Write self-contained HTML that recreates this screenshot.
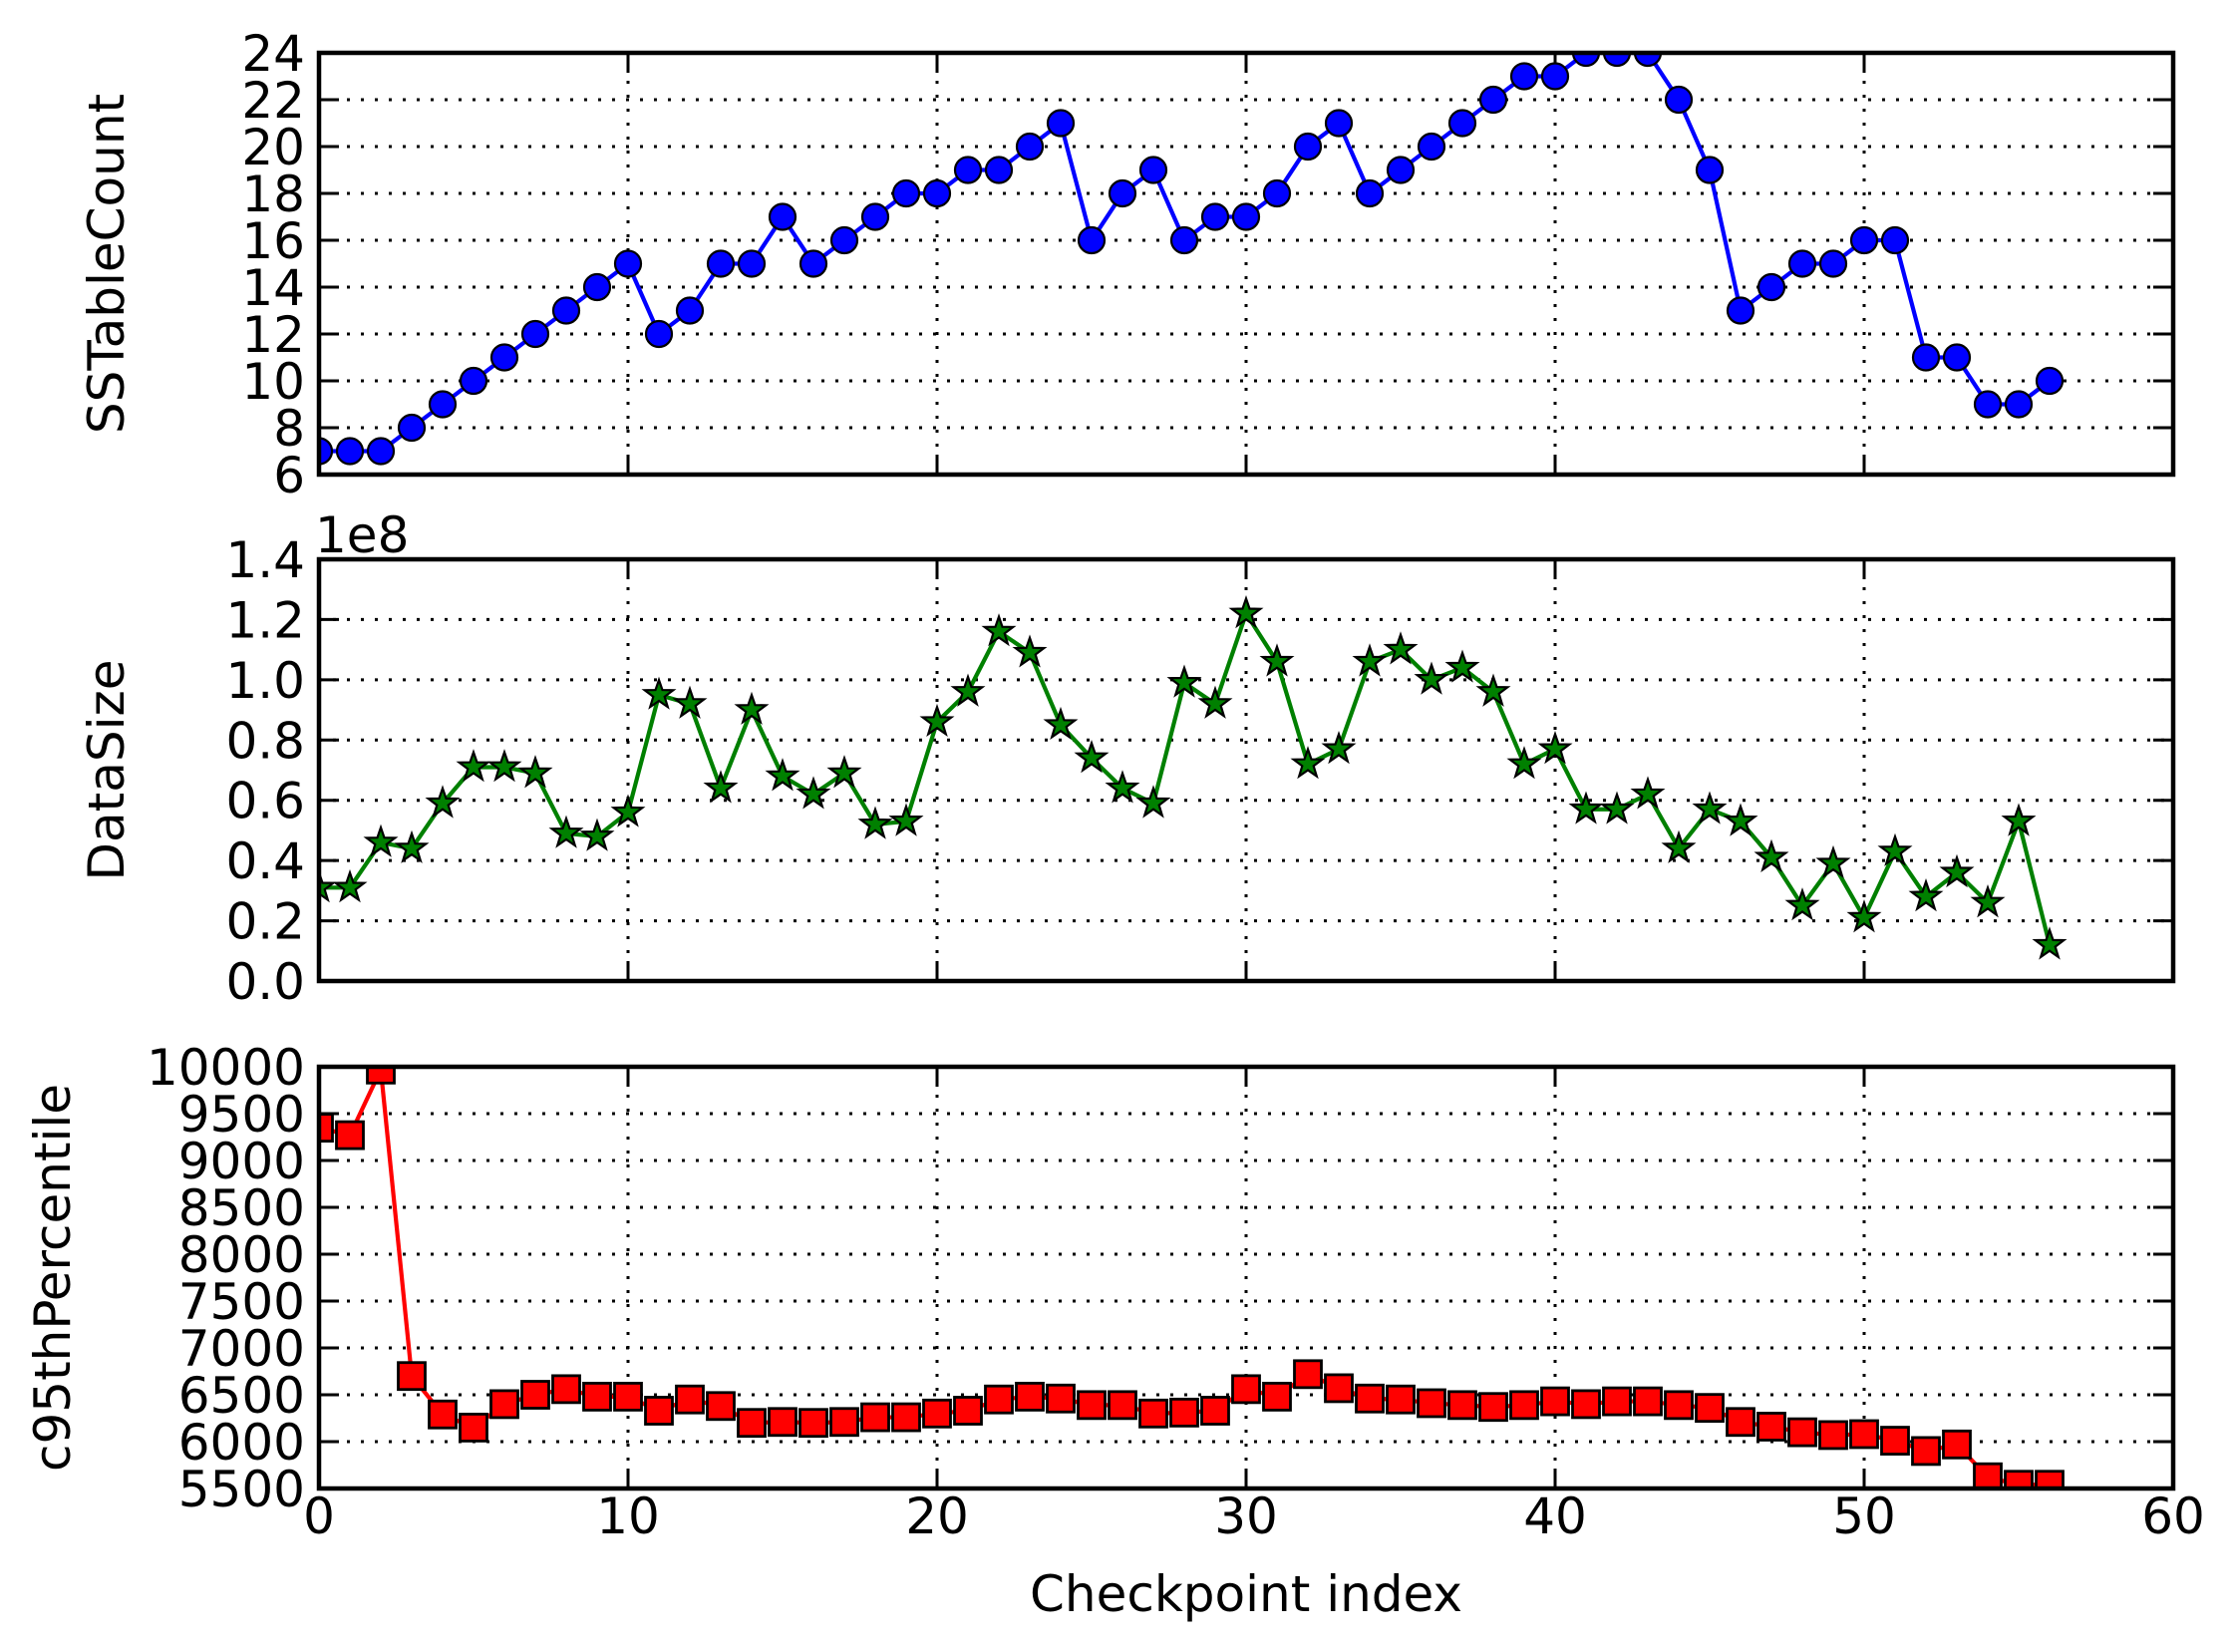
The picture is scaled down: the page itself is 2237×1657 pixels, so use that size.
<!DOCTYPE html>
<html><head><meta charset="utf-8"><style>html,body{margin:0;padding:0;background:#fff;}svg{display:block;}</style></head>
<body>
<svg id="chart" xmlns="http://www.w3.org/2000/svg" width="2237" height="1657" viewBox="0 0 2237 1657" font-family="'DejaVu Sans','Liberation Sans',sans-serif"></svg>
<script>
const checkpoints = Array.from({length:57},(_,i)=>i);
const sstableCount = [7,7,7,8,9,10,11,12,13,14,15,12,13,15,15,17,15,16,17,18,18,19,19,20,21,16,18,19,16,17,17,18,20,21,18,19,20,21,22,23,23,24,24,24,22,19,13,14,15,15,16,16,11,11,9,9,10];
const dataSize = [0.31,0.31,0.46,0.44,0.59,0.71,0.71,0.69,0.49,0.48,0.56,0.95,0.92,0.64,0.90,0.68,0.62,0.69,0.52,0.53,0.86,0.96,1.16,1.09,0.85,0.74,0.64,0.59,0.99,0.92,1.22,1.06,0.72,0.77,1.06,1.10,1.00,1.04,0.96,0.72,0.77,0.57,0.57,0.62,0.44,0.57,0.53,0.41,0.25,0.39,0.21,0.43,0.28,0.36,0.26,0.53,0.12];
const c95 = [9350,9270,9970,6700,6290,6150,6400,6500,6560,6480,6480,6330,6450,6380,6200,6210,6200,6210,6260,6260,6300,6330,6450,6480,6460,6390,6390,6300,6310,6330,6560,6480,6720,6570,6460,6450,6410,6390,6370,6390,6430,6400,6430,6430,6390,6360,6210,6160,6100,6070,6080,6010,5900,5970,5620,5540,5540];
const xTicks = [0,10,20,30,40,50,60];
const ticksTop = [6,8,10,12,14,16,18,20,22,24];
const ticksMid = [0.0,0.2,0.4,0.6,0.8,1.0,1.2,1.4];
const ticksBot = [5500,6000,6500,7000,7500,8000,8500,9000,9500,10000];

const NS="http://www.w3.org/2000/svg";
const svg=document.getElementById('chart');
const L=320,R=2180,H=423,FS=50;
const xs=v=>L+(v-0)/(60-0)*(R-L);
function mk(tag,attrs,parent){const e=document.createElementNS(NS,tag);for(const k in attrs)e.setAttribute(k,attrs[k]);(parent||svg).appendChild(e);return e;}

function panel(name,top,ymin,ymax,ticks,fmt,vals,color,marker,label,labelX){
  const g=mk('g',{});
  
  
  const ys=v=>top+H-(v-ymin)/(ymax-ymin)*H;
  xTicks.forEach(t=>{const l=mk('line',{x1:xs(t),x2:xs(t),y1:top,y2:top+H,stroke:'#000','stroke-width':3,'stroke-dasharray':'3,11'},g);
    
    mk('line',{x1:xs(t),x2:xs(t),y1:top+H,y2:top+H-20,stroke:'#000','stroke-width':3},g);
    mk('line',{x1:xs(t),x2:xs(t),y1:top,y2:top+20,stroke:'#000','stroke-width':3},g);});
  ticks.forEach(t=>{const y=ys(t);
    const l=mk('line',{x1:L,x2:R,y1:y,y2:y,stroke:'#000','stroke-width':3,'stroke-dasharray':'3,11'},g);
    
    mk('line',{x1:L,x2:L+20,y1:y,y2:y,stroke:'#000','stroke-width':3},g);
    mk('line',{x1:R,x2:R-20,y1:y,y2:y,stroke:'#000','stroke-width':3},g);
    const tx=mk('text',{x:306,y:y+18,'text-anchor':'end','font-size':FS,fill:'#000'},g);tx.textContent=fmt(t);
    });
  const cid='clip-'+name;
  const cp=mk('clipPath',{id:cid},g);mk('rect',{x:L,y:top,width:R-L,height:H},cp);
  const dg=mk('g',{'clip-path':'url(#'+cid+')'},g);
  const pts=vals.map((v,i)=>[xs(checkpoints[i]),ys(v)]);
  const line=mk('polyline',{points:pts.map(p=>p.join(',')).join(' '),fill:'none',stroke:color,'stroke-width':4.2},dg);
  
  pts.forEach(([x,y])=>{let m;
    if(marker==='circle')m=mk('circle',{cx:x,cy:y,r:13,fill:color,stroke:'#000','stroke-width':2.2},dg);
    else if(marker==='square')m=mk('rect',{x:x-13.5,y:y-13.5,width:27,height:27,fill:color,stroke:'#000','stroke-width':2.8},dg);
    else{let p=[];for(let k=0;k<10;k++){const r=k%2?6:15,a=-Math.PI/2+k*Math.PI/5;p.push((x+r*Math.cos(a)).toFixed(1)+','+(y+r*Math.sin(a)).toFixed(1));}
      m=mk('polygon',{points:p.join(' '),fill:color,stroke:'#000','stroke-width':2.2},dg);}
    });
  const fr=mk('rect',{x:L,y:top,width:R-L,height:H,fill:'none',stroke:'#000','stroke-width':4.5},g);
  
  const yl=mk('text',{x:labelX,y:top+H/2,'text-anchor':'middle','font-size':FS,fill:'#000',transform:`rotate(-90 ${labelX} ${top+H/2})`},g);
  yl.textContent=label;
  return ys;
}
panel('sstable-count',53,6,24,ticksTop,t=>String(t),sstableCount,'#0000ff','circle','SSTableCount',124);
panel('data-size',561,0,1.4,ticksMid,t=>t.toFixed(1),dataSize,'#008000','star','DataSize',124);
panel('c95th-percentile',1070,5500,10000,ticksBot,t=>String(t),c95,'#ff0000','square','c95thPercentile',70);
const off=mk('text',{x:316,y:554,'font-size':FS,fill:'#000'});off.textContent='1e8';

xTicks.forEach(t=>{const tx=mk('text',{x:xs(t),y:1538,'text-anchor':'middle','font-size':FS,fill:'#000'});tx.textContent=String(t);
  });
const xl=mk('text',{x:(L+R)/2,y:1616,'text-anchor':'middle','font-size':FS,fill:'#000'});xl.textContent='Checkpoint index';

</script>
</body></html>
